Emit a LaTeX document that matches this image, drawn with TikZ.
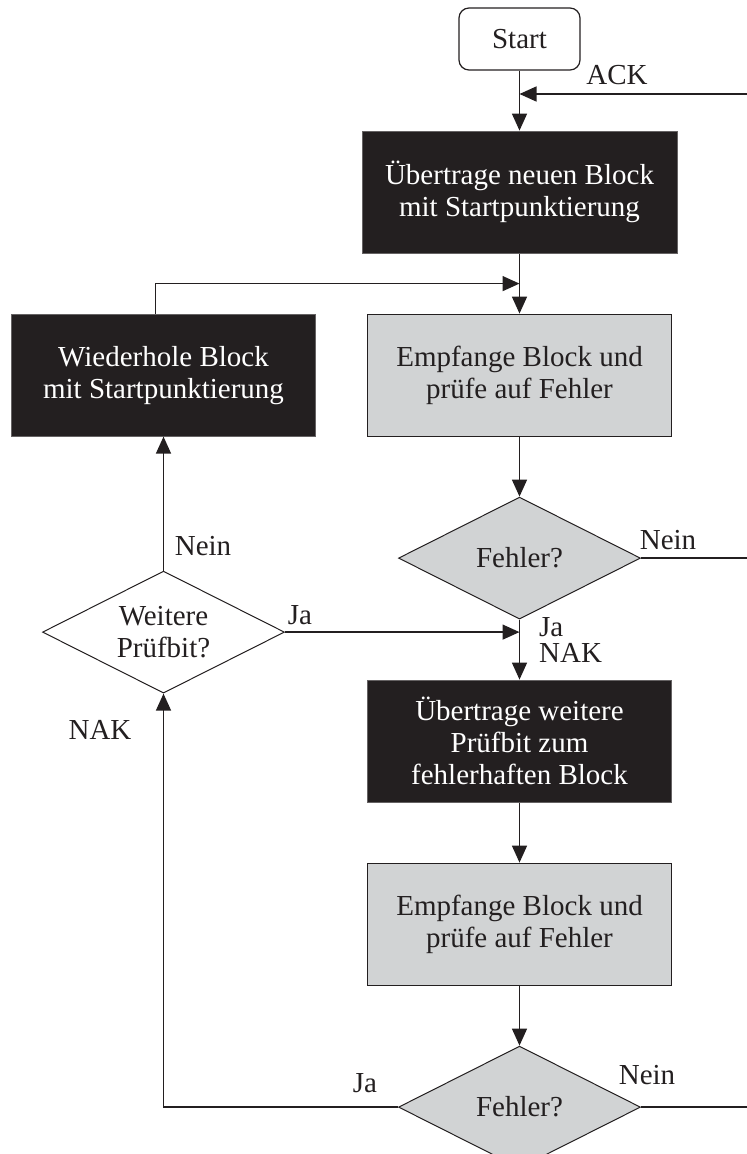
\documentclass[tikz,border=0pt]{standalone}
\usepackage{fontspec}
\setmainfont{Liberation Serif}
\usetikzlibrary{arrows.meta,positioning,shapes.geometric,calc}
\definecolor{ink}{HTML}{231F20}
\definecolor{paleg}{HTML}{D1D3D4}

\begin{document}
\begin{tikzpicture}[
  x=1pt, y=-1pt,
  node distance=60pt,
  font=\fontsize{29}{32}\selectfont,
  every node/.style={text=ink},
  startbox/.style={draw=ink, line width=1.2pt, rounded corners=10pt, minimum width=121pt, minimum height=62pt, inner sep=0pt},
  darkbox/.style={draw=ink!70, fill=ink, text=white, line width=1pt, align=center, minimum width=304pt, minimum height=122pt, inner sep=0pt},
  graybox/.style={draw=ink, fill=paleg, line width=1pt, align=center, minimum width=304pt, minimum height=122pt, inner sep=0pt},
  decision/.style={diamond, draw=ink, line width=1pt, align=center, shape aspect=2, minimum width=242pt, minimum height=122pt, inner sep=0pt},
  arrow/.style={-{Triangle[length=17pt, width=15pt]}, line width=1.5pt, draw=ink},
  wire/.style={line width=1.3pt, draw=ink},
  lbl/.style={inner sep=0pt}
]
\useasboundingbox (0,0) rectangle (747,1154);

\node[startbox] (start) at (519.5,39) {Start};
\node[darkbox, below=of start, minimum width=315pt] (send) {Übertrage neuen Block\\mit Startpunktierung};
\node[graybox, below=of send] (recv1) {Empfange Block und\\prüfe auf Fehler};
\node[darkbox, left=51pt of recv1] (repeat) {Wiederhole Block\\mit Startpunktierung};
\node[decision, fill=paleg, below=of recv1] (err1) {Fehler?};
\node[decision, fill=white, below=134pt of repeat] (more) {Weitere\\Prüfbit?};
\node[darkbox, below=of err1] (extra) {Übertrage weitere\\Prüfbit zum\\fehlerhaften Block};
\node[graybox, below=of extra] (recv2) {Empfange Block und\\prüfe auf Fehler};
\node[decision, fill=paleg, below=of recv2] (err2) {Fehler?};

\coordinate (ackin) at (747,94);
\coordinate (merge) at ($(send.south)!0.5!(recv1.north)$);

\draw[arrow] (start) -- (send);
\draw[arrow] (ackin) -- (ackin -| start.south);
\draw[arrow] (send) -- (recv1);
\draw[arrow] ([xshift=-8pt]repeat.north) |- (merge);
\draw[arrow] (recv1) -- (err1);
\draw[wire] (err1.east) -- (err1.east -| ackin);
\draw[arrow] (err1) -- (extra);
\draw[arrow] (more.east) -- (more.east -| err1.south);
\draw[arrow] (more) -- (repeat);
\draw[arrow] (extra) -- (recv2);
\draw[arrow] (recv2) -- (err2);
\draw[wire] (err2.east) -- (err2.east -| ackin);
\draw[arrow] (err2.west) -| (more.south);

\node[lbl] (ackl) at (617,75) {ACK};
\node[lbl] (nein1) at (668,540) {Nein};
\node[lbl, anchor=west] (ja1) at (539,627) {Ja};
\node[lbl, anchor=west] (nak1) at (539,653) {NAK};
\node[lbl] (nein2) at (203,546) {Nein};
\node[lbl] (ja2) at (300,615) {Ja};
\node[lbl] (nak2) at (100,730) {NAK};
\node[lbl] (ja3) at (365,1083) {Ja};
\node[lbl] (nein3) at (647,1075) {Nein};

\end{tikzpicture}
\end{document}
